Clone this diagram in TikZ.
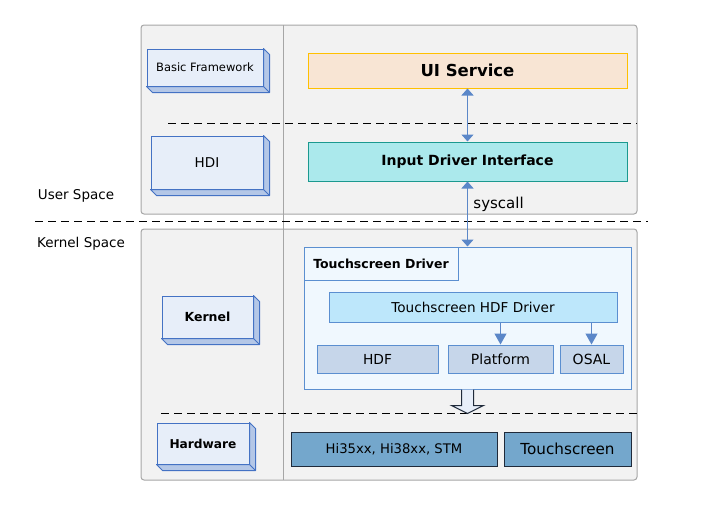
\documentclass[tikz,border=0pt]{standalone}
\usepackage{fontspec}
\setmainfont{DejaVu Sans}
\usetikzlibrary{arrows.meta}

\definecolor{panelgray}{HTML}{F2F2F2}
\definecolor{panelline}{HTML}{A6A6A6}
\definecolor{layerfront}{HTML}{E7EEF9}
\definecolor{layerside}{HTML}{B4C7E7}
\definecolor{layerline}{HTML}{4472C4}
\definecolor{uifill}{HTML}{F8E5D4}
\definecolor{uiline}{HTML}{FFC000}
\definecolor{idifill}{HTML}{ABE9EC}
\definecolor{idiline}{HTML}{1B998F}
\definecolor{drvfill}{HTML}{F0F8FE}
\definecolor{drvline}{HTML}{5B8FD0}
\definecolor{hdffill}{HTML}{BDE7FB}
\definecolor{modfill}{HTML}{C6D6EA}
\definecolor{hwfill}{HTML}{74A7CC}
\definecolor{hwline}{HTML}{1F2A3A}
\definecolor{arrowblue}{HTML}{5B87C8}

\newcommand\setfs[1]{\fontsize{#1}{#1}\selectfont}

\tikzset{
  panel/.style={draw=panelline, fill=panelgray, line width=1pt, rounded corners=3pt, inner sep=0pt},
  layer/.style={draw=layerline, fill=layerfront, line width=1pt, inner sep=0pt},
  layerface/.style={draw=layerline, fill=layerside, line width=1pt, line join=round},
  block/.style={line width=1pt, inner sep=0pt},
  link/.style={draw=arrowblue, line width=1.2pt, {Triangle[width=12pt,length=7pt]}-{Triangle[width=12pt,length=7pt]}},
  down/.style={draw=arrowblue, line width=1.2pt, -{Triangle[width=12pt,length=11pt]}},
  sep/.style={dash pattern=on 8pt off 5pt, line width=1pt},
}

\begin{document}
\begin{tikzpicture}[x=1pt,y=-1pt]
    \useasboundingbox (0,0) rectangle (704,514);

    % Layer panels
    \node[panel, minimum width=496, minimum height=189] (upper) at (389,119.5) {};
    \node[panel, minimum width=496, minimum height=251] (lower) at (389,354.5) {};
    \draw[panelline, line width=1pt] (283,25) -- (283,480);

    % Dashed separators
    \draw[sep] (35,221) -- (648,221);
    \draw[sep] (168,123) -- (637,123);
    \draw[sep] (161,413) -- (637,413);

    \node (user) at (76,196) {\setfs{13.5}User Space};
    \node (kspace) at (81,244) {\setfs{13.5}Kernel Space};

    % Layer names (3D boxes)
    \node[layer, minimum width=116, minimum height=37] (bf) at (205,67.5) {\setfs{11.5}Basic Framework};
    \node[layer, minimum width=112, minimum height=53] (hdi) at (207,162.5) {\setfs{13.5}HDI};
    \node[layer, minimum width=91, minimum height=42] (kern) at (207.5,317) {\setfs{12.5}\bfseries Kernel};
    \node[layer, minimum width=92, minimum height=41] (hw) at (203,443.5) {\setfs{12.2}\bfseries Hardware};
    \foreach \n in {bf,hdi,kern,hw} {
      \draw[layerface] (\n.north east) -- ++(6,6) -- ([shift={(6,6)}]\n.south east)
        -- ([shift={(6,6)}]\n.south west) -- (\n.south west) -- (\n.south east) -- cycle;
      \draw[layerline, line width=1pt] (\n.south east) -- ++(6,6);
    }

    % User space modules
    \node[block, draw=uiline, fill=uifill, minimum width=319, minimum height=35] (ui) at (467.5,70.5) {\setfs{16.5}\bfseries UI Service};
    \node[block, draw=idiline, fill=idifill, minimum width=319, minimum height=39] (idi) at (467.5,161.5) {\setfs{14}\bfseries Input Driver Interface};

    % Touchscreen driver
    \node[block, draw=drvline, fill=drvfill, minimum width=327, minimum height=142] (tsd) at (467.5,318) {};
    \node[block, draw=drvline, fill=drvfill, minimum width=154, minimum height=33, anchor=north west] (tab) at (tsd.north west) {\setfs{12.5}\bfseries Touchscreen Driver};
    \node[block, draw=drvline, fill=hdffill, minimum width=288, minimum height=30] (hdfdrv) at (473,307) {\setfs{13.6}Touchscreen HDF Driver};
    \node[block, draw=drvline, fill=modfill, minimum width=121, minimum height=28] (hdf) at (377.5,359) {\setfs{13.8}HDF};
    \node[block, draw=drvline, fill=modfill, minimum width=105, minimum height=28] (plat) at (500.5,359) {\setfs{14}Platform};
    \node[block, draw=drvline, fill=modfill, minimum width=63, minimum height=28] (osal) at (591.5,359) {\setfs{14}OSAL};

    % Hardware
    \node[block, draw=hwline, fill=hwfill, minimum width=206, minimum height=34] (soc) at (394,449) {\setfs{13.2}Hi35xx, Hi38xx, STM};
    \node[block, draw=hwline, fill=hwfill, minimum width=127, minimum height=34] (tscreen) at (567.5,449) {\setfs{15.2}Touchscreen};

    % Connections
    \draw[link] (ui.south) -- (idi.north);
    \draw[link] (idi.south) -- (tsd.north) node[pos=0.35, right=2pt] {\setfs{15}syscall};
    \draw[down] (hdfdrv.south -| plat.north) -- (plat.north);
    \draw[down] (hdfdrv.south -| osal.north) -- (osal.north);
    \draw[draw=hwline, fill=layerfront, line width=1pt] ([xshift=-6]tsd.south) -- ++(0,16) -- ++(-10,0)
      -- ++(16,8) -- ++(16,-8) -- ++(-10,0) -- ++(0,-16);
\end{tikzpicture}
\end{document}
